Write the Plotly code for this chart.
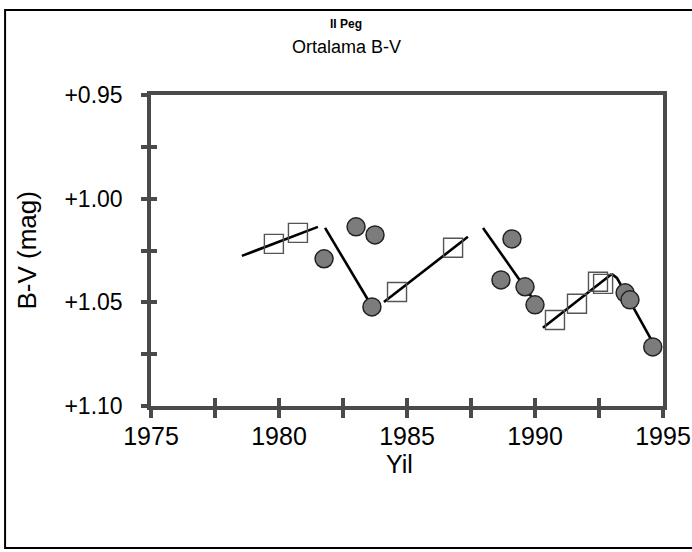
import plotly.graph_objects as go

# ---- data ----
circle_years = [1981.76, 1983.01, 1983.75, 1983.63, 1989.10, 1988.67, 1989.61, 1990.00, 1993.52, 1993.71, 1994.60]
circle_bv    = [1.0290, 1.0136, 1.0175, 1.0522, 1.0194, 1.0392, 1.0425, 1.0512, 1.0454, 1.0488, 1.0715]

square_years = [1979.80, 1980.74, 1984.61, 1986.80, 1990.78, 1991.64, 1992.46, 1992.66]
square_bv    = [1.0218, 1.0165, 1.0450, 1.0237, 1.0585, 1.0507, 1.0401, 1.0411]

# trend line segments (start, end) separated by None
trend_years = [1978.55, 1981.52, None, 1981.80, 1983.55, None, 1984.10, 1987.38, None,
               1987.97, 1990.08, None, 1990.31, 1993.00, None, 1993.00, 1993.20, 1994.61]
trend_bv    = [1.0276, 1.0136, None, 1.0141, 1.0503, None, 1.0498, 1.0184, None,
               1.0141, 1.0512, None, 1.0623, 1.0363, None, 1.0363, 1.0382, 1.0695]

x_tickvals = [1975, 1977.5, 1980, 1982.5, 1985, 1987.5, 1990, 1992.5, 1995]
x_ticktext = ["1975", "", "1980", "", "1985", "", "1990", "", "1995"]
y_tickvals = [0.95, 0.975, 1.00, 1.025, 1.05, 1.075, 1.10]
y_ticktext = ["+0.95", "", "+1.00", "", "+1.05", "", "+1.10"]

FONT = "Arial, Liberation Sans, Helvetica, sans-serif"
AX = "#4a4a4a"

fig = go.Figure()
fig.add_trace(go.Scatter(x=trend_years, y=trend_bv, mode="lines",
                         line=dict(color="black", width=2.6), showlegend=False))
fig.add_trace(go.Scatter(x=square_years, y=square_bv, mode="markers",
                         marker=dict(symbol="square-open", size=19, color="#555555",
                                     line=dict(width=1.4)), showlegend=False))
fig.add_trace(go.Scatter(x=circle_years, y=circle_bv, mode="markers",
                         marker=dict(symbol="circle", size=18, color="#7c7c7c",
                                     line=dict(color="#222222", width=1.5)), showlegend=False))

fig.update_layout(
    width=692, height=552,
    margin=dict(l=151, r=29, t=95, b=146),
    paper_bgcolor="white", plot_bgcolor="white",
    font=dict(family=FONT, color="black"),
    xaxis=dict(range=[1975, 1995], tickvals=x_tickvals, ticktext=x_ticktext,
               showgrid=False, zeroline=False, showline=True, linecolor=AX, linewidth=3.5,
               mirror=True, ticks="outside", ticklen=8, tickwidth=3.5, tickcolor=AX,
               tickfont=dict(size=25), ticklabelstandoff=-3, automargin=False),
    yaxis=dict(range=[1.10, 0.95], tickvals=y_tickvals, ticktext=y_ticktext,
               showgrid=False, zeroline=False, showline=True, linecolor=AX, linewidth=3.5,
               mirror=True, ticks="outside", ticklen=6, tickwidth=3.5, tickcolor=AX,
               tickfont=dict(size=23), ticklabelstandoff=14, automargin=False),
    xaxis2=dict(range=[1975, 1995], tickvals=x_tickvals, overlaying="x", anchor="y",
                side="bottom", showticklabels=False, showgrid=False, zeroline=False,
                showline=False, ticks="inside", ticklen=8, tickwidth=3.5, tickcolor=AX),
    yaxis2=dict(range=[1.10, 0.95], tickvals=y_tickvals, overlaying="y", anchor="x",
                side="left", showticklabels=False, showgrid=False, zeroline=False,
                showline=False, ticks="inside", ticklen=6, tickwidth=3.5, tickcolor=AX),
    shapes=[dict(type="rect", xref="paper", yref="paper",
                 x0=-0.285, x1=1.25, y0=-0.4566, y1=1.273,
                 line=dict(color="black", width=2), fillcolor="rgba(0,0,0,0)")],
    annotations=[
        dict(text="<b>II Peg</b>", xref="paper", yref="paper", x=0.381, y=1.228,
             showarrow=False, font=dict(size=12), xanchor="center", yanchor="middle"),
        dict(text="Ortalama B-V", xref="paper", yref="paper", x=0.381, y=1.154,
             showarrow=False, font=dict(size=18), xanchor="center", yanchor="middle"),
        dict(text="B-V (mag)", xref="paper", yref="paper", x=-0.244, y=0.50,
             showarrow=False, font=dict(size=26), textangle=-90,
             xanchor="center", yanchor="middle"),
        dict(text="Yil", xref="paper", yref="paper", x=0.486, y=-0.185,
             showarrow=False, font=dict(size=25), xanchor="center", yanchor="middle"),
    ],
)
# invisible helper trace so the overlay tick axes are rendered
fig.add_trace(go.Scatter(x=[1975], y=[1.0], xaxis="x2", yaxis="y2", mode="markers",
                         marker=dict(opacity=0), showlegend=False, hoverinfo="skip"))

fig.write_html("out.html")
